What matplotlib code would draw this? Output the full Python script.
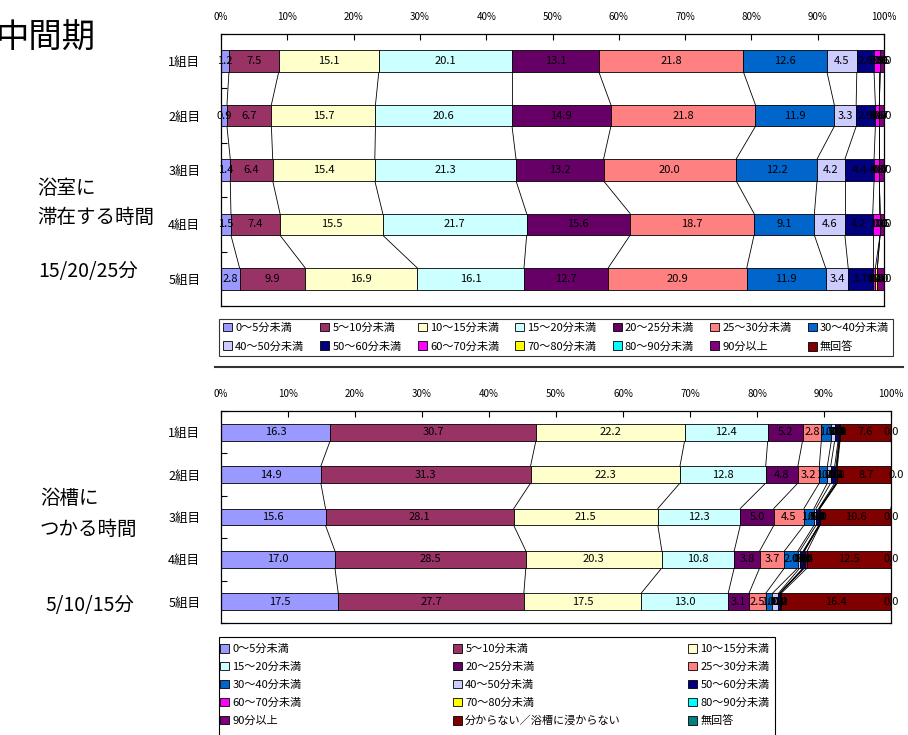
import numpy as np
import matplotlib.pyplot as plt
from matplotlib.patches import Patch, Rectangle
from matplotlib.lines import Line2D

plt.rcParams['font.family'] = ['Noto Sans CJK JP', 'DejaVu Sans']

groups = ["1組目", "2組目", "3組目", "4組目", "5組目"]

# 浴室に滞在する時間 (top chart) -- one list per category, values for groups 1..5
top_cats = ["0～5分未満", "5～10分未満", "10～15分未満", "15～20分未満", "20～25分未満",
            "25～30分未満", "30～40分未満", "40～50分未満", "50～60分未満", "60～70分未満",
            "70～80分未満", "80～90分未満", "90分以上", "無回答"]
top_vals = [
    [1.2, 0.9, 1.4, 1.5, 2.8],
    [7.5, 6.7, 6.4, 7.4, 9.9],
    [15.1, 15.7, 15.4, 15.5, 16.9],
    [20.1, 20.6, 21.3, 21.7, 16.1],
    [13.1, 14.9, 13.2, 15.6, 12.7],
    [21.8, 21.8, 20.0, 18.7, 20.9],
    [12.6, 11.9, 12.2, 9.1, 11.9],
    [4.5, 3.3, 4.2, 4.6, 3.4],
    [2.6, 2.9, 4.4, 4.2, 3.7],
    [0.9, 0.6, 0.8, 1.1, 0.4],
    [0.0, 0.0, 0.0, 0.0, 0.3],
    [0.0, 0.0, 0.0, 0.0, 0.0],
    [0.6, 0.7, 0.7, 0.6, 1.0],
    [0.0, 0.0, 0.0, 0.0, 0.0],
]
top_colors = ["#9999FF", "#993366", "#FFFFCC", "#CCFFFF", "#660066", "#FF8080", "#0066CC",
              "#CCCCFF", "#000080", "#FF00FF", "#FFFF00", "#00FFFF", "#800080", "#800000"]

# 浴槽につかる時間 (bottom chart)
bot_cats = ["0～5分未満", "5～10分未満", "10～15分未満", "15～20分未満", "20～25分未満",
            "25～30分未満", "30～40分未満", "40～50分未満", "50～60分未満", "60～70分未満",
            "70～80分未満", "80～90分未満", "90分以上", "分からない／浴槽に浸からない", "無回答"]
bot_vals = [
    [16.3, 14.9, 15.6, 17.0, 17.5],
    [30.7, 31.3, 28.1, 28.5, 27.7],
    [22.2, 22.3, 21.5, 20.3, 17.5],
    [12.4, 12.8, 12.3, 10.8, 13.0],
    [5.2, 4.8, 5.0, 3.8, 3.1],
    [2.8, 3.2, 4.5, 3.7, 2.5],
    [1.5, 1.2, 1.5, 2.0, 1.0],
    [0.5, 0.5, 0.3, 0.3, 0.9],
    [0.5, 0.6, 0.4, 0.5, 0.2],
    [0.1, 0.2, 0.1, 0.1, 0.0],
    [0.1, 0.1, 0.0, 0.0, 0.0],
    [0.0, 0.0, 0.0, 0.1, 0.0],
    [0.1, 0.1, 0.1, 0.4, 0.2],
    [7.6, 8.7, 10.6, 12.5, 16.4],
    [0.0, 0.0, 0.0, 0.0, 0.0],
]
bot_colors = ["#9999FF", "#993366", "#FFFFCC", "#CCFFFF", "#660066", "#FF8080", "#0066CC",
              "#CCCCFF", "#000080", "#FF00FF", "#FFFF00", "#00FFFF", "#800080", "#800000", "#008080"]

W, H = 908, 735


def fbox(x0, y0, x1, y1):
    # pixel box -> figure fraction [left, bottom, width, height]
    return [x0 / W, 1 - y1 / H, (x1 - x0) / W, (y1 - y0) / H]


def stacked(ax, vals, colors):
    y = np.arange(len(groups))
    left = np.zeros(len(groups))
    bh = 0.4
    for v, c in zip(vals, colors):
        v = np.array(v)
        ax.barh(y, v, left=left, height=bh, color=c, edgecolor="black", linewidth=0.6, zorder=2)
        right = left + v
        # series lines between bars
        for i in range(len(groups) - 1):
            ax.plot([right[i], right[i + 1]], [y[i] + bh / 2, y[i + 1] - bh / 2],
                    color="black", lw=0.6, zorder=1)
        for i in range(len(groups)):
            ax.text(left[i] + v[i] / 2, y[i], f"{v[i]:.1f}", ha="center", va="center",
                    fontsize=8, color="black", zorder=3, clip_on=False)
        left = right

    ax.set_xlim(0, 100)
    ax.set_ylim(len(groups) - 0.5, -0.5)
    ax.xaxis.tick_top()
    ax.set_xticks(np.arange(0, 101, 10))
    ax.set_xticklabels([f"{t}%" for t in range(0, 101, 10)], fontsize=7)
    ax.tick_params(axis="x", direction="in", length=4, pad=8.5, width=0.8)
    ax.set_yticks(np.arange(-0.5, len(groups), 1.0))
    ax.set_yticklabels([])
    ax.set_yticks(y, minor=True)
    ax.set_yticklabels(groups, minor=True, fontsize=9)
    ax.tick_params(axis="y", which="major", direction="in", length=4, width=0.8)
    ax.tick_params(axis="y", which="minor", length=0, pad=15)
    for s in ax.spines.values():
        s.set_linewidth(0.9)


def legend_order(n, ncol):
    nrow = int(np.ceil(n / ncol))
    order = []
    for c in range(ncol):
        for r in range(nrow):
            k = r * ncol + c
            if k < n:
                order.append(k)
    return order


fig = plt.figure(figsize=(W / 100, H / 100), dpi=100)

ax1 = fig.add_axes(fbox(221, 34, 884, 306))
stacked(ax1, top_vals, top_colors)

ax2 = fig.add_axes(fbox(221, 411, 891, 623))
stacked(ax2, bot_vals, bot_colors)

leg_kw = dict(fontsize=8, handlelength=0.8, handleheight=0.8, handletextpad=0.3)

# top legend: 2 rows x 7 columns
h1 = [Patch(facecolor=c, edgecolor="black", linewidth=0.6) for c in top_colors]
o1 = legend_order(len(top_cats), 7)
fig.legend([h1[k] for k in o1], [top_cats[k] for k in o1], ncol=7, loc="upper left",
           bbox_to_anchor=(219 / W, 1 - 361 / H, (893 - 219) / W, 42 / H), mode="expand",
           borderaxespad=0, frameon=True, fancybox=False, edgecolor="black",
           columnspacing=0.6, labelspacing=0.75, borderpad=0.35,
           **leg_kw).get_frame().set_linewidth(0.8)

# bottom legend: 3 evenly spaced columns inside one frame
h2 = [Patch(facecolor=c, edgecolor="black", linewidth=0.6) for c in bot_colors]
col_x = [220, 453, 688]
for c, x in enumerate(col_x):
    idx = list(range(c, len(bot_cats), 3))
    fig.legend([h2[k] for k in idx], [bot_cats[k] for k in idx], loc="upper left",
               bbox_to_anchor=(x / W, 1 - 644 / H), borderaxespad=0, borderpad=0,
               frameon=False, labelspacing=0.7, **leg_kw)
fig.add_artist(Rectangle((219 / W, 1 - 745 / H), (775 - 219) / W, (745 - 637) / H,
                         transform=fig.transFigure, fill=False, edgecolor="black", lw=0.8))

# separator line between the two charts
fig.add_artist(Line2D([215 / W, 903 / W], [1 - 367 / H, 1 - 367 / H], color="#333333", lw=1.5))

# side captions
fig.text(96 / W, 1 - 38 / H, "中間期", ha="right", va="center", fontsize=24)
fig.text(37 / W, 1 - 188 / H, "浴室に", ha="left", va="center", fontsize=14)
fig.text(37 / W, 1 - 217 / H, "滞在する時間", ha="left", va="center", fontsize=14)
fig.text(38 / W, 1 - 271 / H, "15/20/25分", ha="left", va="center", fontsize=14)
fig.text(40 / W, 1 - 498 / H, "浴槽に", ha="left", va="center", fontsize=14)
fig.text(40 / W, 1 - 529 / H, "つかる時間", ha="left", va="center", fontsize=14)
fig.text(45 / W, 1 - 606 / H, "5/10/15分", ha="left", va="center", fontsize=14)

fig.savefig("out.png", dpi=100)
